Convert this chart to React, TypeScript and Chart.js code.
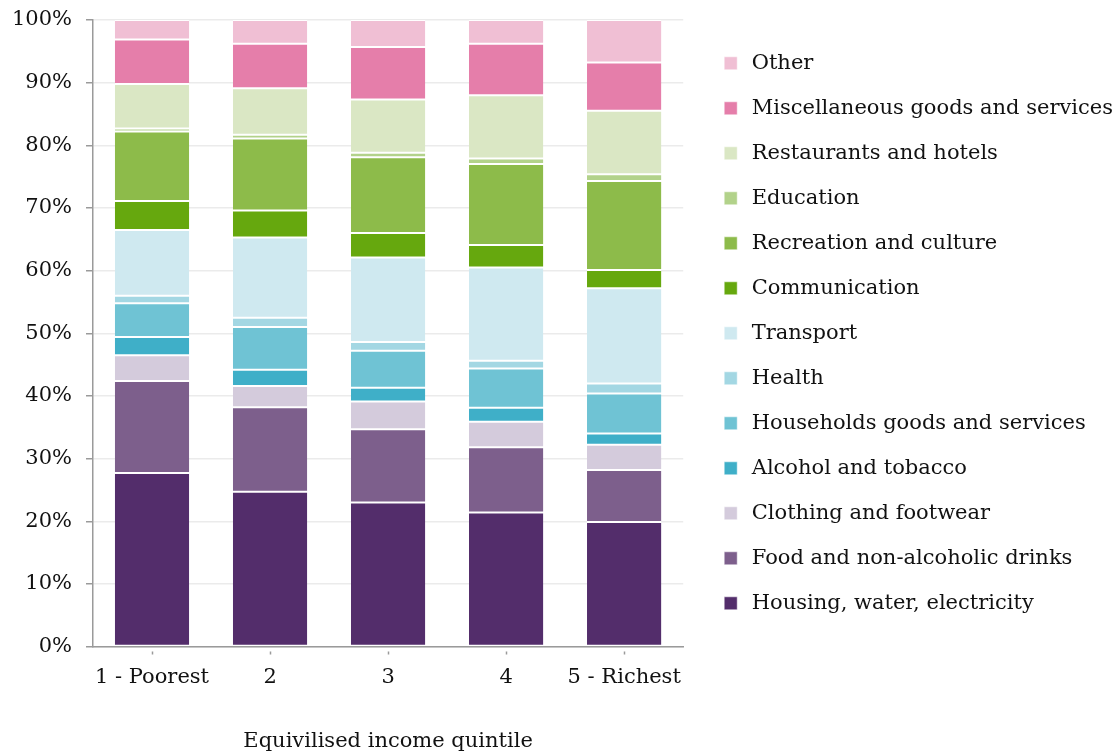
import React, { useEffect, useRef } from "react";
import { Chart, registerables } from "chart.js";

Chart.register(...registerables);

const categories = ["1 - Poorest", "2", "3", "4", "5 - Richest"];

const housing = [27.7, 24.7, 23.0, 21.4, 19.9];
const food = [14.7, 13.5, 11.7, 10.4, 8.3];
const clothing = [4.1, 3.4, 4.4, 4.1, 4.0];
const alcohol = [2.9, 2.6, 2.2, 2.2, 1.8];
const households = [5.4, 6.8, 5.9, 6.3, 6.4];
const health = [1.2, 1.5, 1.4, 1.2, 1.6];
const transport = [10.5, 12.8, 13.5, 14.9, 15.2];
const communication = [4.6, 4.3, 3.9, 3.6, 2.9];
const recreation = [11.1, 11.5, 12.1, 12.9, 14.2];
const education = [0.5, 0.6, 0.7, 0.9, 1.1];
const restaurants = [7.1, 7.4, 8.5, 10.1, 10.1];
const misc = [7.1, 7.1, 8.4, 8.2, 7.7];
const other = [3.1, 3.8, 4.3, 3.8, 6.8];

const seriesNames = [
  "Housing, water, electricity",
  "Food and non-alcoholic drinks",
  "Clothing and footwear",
  "Alcohol and tobacco",
  "Households goods and services",
  "Health",
  "Transport",
  "Communication",
  "Recreation and culture",
  "Education",
  "Restaurants and hotels",
  "Miscellaneous goods and services",
  "Other",
];
const seriesValues = [
  housing, food, clothing, alcohol, households, health, transport,
  communication, recreation, education, restaurants, misc, other,
];
const seriesColors = [
  "#532d6b", "#7d5f8c", "#d4cbdc", "#3fafc8", "#6fc3d4", "#a3d7e3", "#cfe9f0",
  "#66a80e", "#8dbb4a", "#b2d28a", "#dae7c4", "#e57eaa", "#f0bfd4",
];

const yTicks = [0, 10, 20, 30, 40, 50, 60, 70, 80, 90, 100];
const xTitle = "Equivilised income quintile";

const FONT = "'DejaVu Serif', serif";
const TEXT = "#111111";

export default function App() {
  const ref = useRef<HTMLCanvasElement | null>(null);

  useEffect(() => {
    if (!ref.current) return;
    const chart = new Chart(ref.current, {
      type: "bar",
      data: {
        labels: categories,
        datasets: seriesNames.map((name, i) => ({
          label: name,
          data: seriesValues[i],
          backgroundColor: seriesColors[i],
          borderColor: "#ffffff",
          borderWidth: { top: 1, bottom: 1, left: 0, right: 0 },
          borderSkipped: false,
          barPercentage: 0.63,
          categoryPercentage: 1.0,
        })),
      },
      options: {
        responsive: false,
        animation: false,
        layout: { padding: { top: 20, left: 0, right: -4, bottom: 0 } },
        font: { family: FONT, size: 21 },
        plugins: {
          tooltip: { enabled: false },
          legend: {
            position: "right",
            fullSize: false,
            reverse: true,
            align: "center",
            maxWidth: 600,
            labels: {
              font: { family: FONT, size: 21 },
              color: TEXT,
              usePointStyle: true,
              pointStyle: "rect",
              boxHeight: 13,
              boxWidth: 21,
              padding: 24,
            },
          },
        },
        scales: {
          x: {
            stacked: true,
            offset: true,
            grid: {
              offset: false,
              drawOnChartArea: false,
              drawTicks: true,
              tickLength: 8,
              tickColor: "#9a9a9a",
              tickWidth: 1.5,
              tickBorderDash: [0, 4, 4, 100],
            },
            border: { display: true, color: "#9a9a9a", width: 1.5 },
            ticks: {
              font: { family: FONT, size: 21 },
              color: TEXT,
              padding: 10,
              maxRotation: 0,
              autoSkip: false,
            },
            title: {
              display: true,
              text: xTitle,
              font: { family: FONT, size: 21 },
              color: TEXT,
              padding: { top: 29, bottom: 2 },
            },
          },
          y: {
            stacked: true,
            min: 0,
            max: 100,
            afterBuildTicks: (scale: any) => {
              scale.ticks = yTicks.map((v) => ({ value: v }));
            },
            afterFit: (scale: any) => {
              scale.width = 93;
              scale.paddingTop = 0;
              scale.paddingBottom = 0;
            },
            grid: {
              color: "#ebebeb",
              lineWidth: 1.5,
              drawTicks: true,
              tickLength: 7,
              tickColor: "#9a9a9a",
              tickWidth: 1.5,
            },
            border: { display: true, color: "#9a9a9a", width: 1.5 },
            ticks: {
              font: { family: FONT, size: 21 },
              color: TEXT,
              padding: 14,
              callback: (v: any) => v + "%",
            },
          },
          yGap: {
            type: "linear",
            position: "right",
            display: true,
            grid: { display: false, drawTicks: false },
            border: { display: false },
            ticks: { display: false },
            afterFit: (scale: any) => {
              scale.width = 13;
              scale.paddingTop = 0;
              scale.paddingBottom = 0;
            },
          },
        },
      } as any,
    });
    return () => chart.destroy();
  }, []);

  return (
    <div style={{ position: "fixed", left: 0, top: 0, width: 1119, height: 756, background: "#fff" }}>
      <canvas ref={ref} width={1119} height={756} style={{ display: "block" }} />
    </div>
  );
}
